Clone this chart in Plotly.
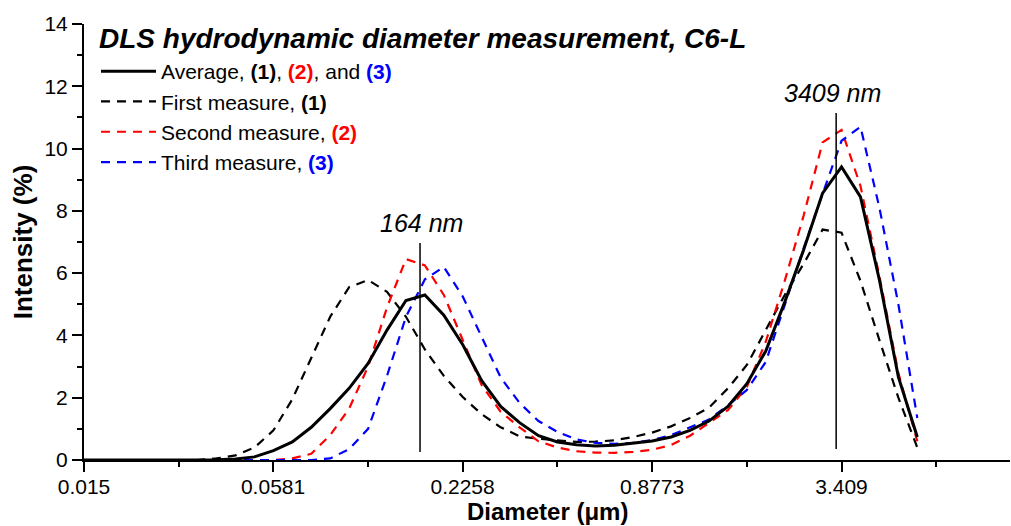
import math
import plotly.graph_objects as go

# Diameter bins (µm)
diameter = [0.015, 0.017179, 0.019675, 0.022534, 0.025807, 0.029557, 0.033851, 0.038769,
            0.044402, 0.050853, 0.058241, 0.066703, 0.076394, 0.087493, 0.10020, 0.11476,
            0.13143, 0.15053, 0.17240, 0.19744, 0.22613, 0.25898, 0.29661, 0.33970,
            0.38905, 0.44558, 0.51031, 0.58445, 0.66937, 0.76662, 0.87800, 1.0056,
            1.1516, 1.3190, 1.5106, 1.7301, 1.9814, 2.2693, 2.5990, 2.9766,
            3.4091, 3.9044, 4.4717, 5.1214, 5.8655]

first = [0, 0, 0, 0, 0, 0, 0, 0.05, 0.15, 0.4, 0.95, 1.95, 3.25, 4.6, 5.55, 5.78, 5.4, 4.6,
         3.55, 2.7, 2.02, 1.47, 1.05, 0.76, 0.68, 0.62, 0.58, 0.59, 0.63, 0.74, 0.88, 1.08,
         1.35, 1.68, 2.3, 3.05, 4.2, 5.3, 6.3, 7.4, 7.3, 5.75, 3.85, 2.0, 0.4]

second = [0, 0, 0, 0, 0, 0, 0, 0, 0, 0, 0, 0.05, 0.2, 0.8, 1.65, 3.0, 4.9, 6.45,
          6.25, 5.3, 3.85, 2.4, 1.55, 1.05, 0.6, 0.4, 0.28, 0.24, 0.23, 0.26, 0.33, 0.48,
          0.78, 1.2, 1.6, 2.35, 3.8, 5.75, 7.85, 10.2, 10.6, 8.8, 5.9, 2.8, 0.6]

third = [0, 0, 0, 0, 0, 0, 0, 0, 0, 0, 0, 0, 0, 0.05, 0.35, 1.0, 2.7, 4.6,
         5.8, 6.2, 5.25, 3.95, 2.65, 1.83, 1.25, 0.9, 0.66, 0.55, 0.52, 0.55, 0.64, 0.8,
         1.05, 1.3, 1.75, 2.25, 3.15, 5.0, 6.8, 8.55, 10.25, 10.7, 8.1, 5.0, 1.35]

average = [0, 0, 0, 0, 0, 0, 0, 0.01, 0.03, 0.1, 0.3, 0.58, 1.05, 1.65, 2.3, 3.1, 4.17, 5.12,
           5.3, 4.65, 3.7, 2.55, 1.72, 1.2, 0.78, 0.58, 0.49, 0.45, 0.47, 0.53, 0.61, 0.74,
           0.95, 1.25, 1.72, 2.45, 3.5, 5.07, 6.75, 8.57, 9.41, 8.45, 5.78, 2.67, 0.74]

tick_vals = [0.015, 0.0581, 0.2258, 0.8773, 3.409]
tick_text = ["0.015", "0.0581", "0.2258", "0.8773", "3.409"]
minor_vals = [0.02952, 0.1145, 0.4451, 1.7294, 6.72]

peak_x = [0.1665, 3.28]
peak_y0 = [0.26, 0.35]
peak_y1 = [6.97, 11.14]
peak_labels = ["164 nm", "3409 nm"]
peak_label_x = [0.1686, 3.184]
peak_label_y = [7.62, 11.8]

fig = go.Figure()
dash = "9px,7px"
fig.add_trace(go.Scatter(x=diameter, y=first, mode="lines", legendrank=2,
                         name="First measure, <b>(1)</b>",
                         line=dict(color="black", width=2.2, dash=dash)))
fig.add_trace(go.Scatter(x=diameter, y=second, mode="lines", legendrank=3,
                         name="Second measure, <b><span style='color:#ff0000'>(2)</span></b>",
                         line=dict(color="#ff0000", width=2.2, dash=dash)))
fig.add_trace(go.Scatter(x=diameter, y=third, mode="lines", legendrank=4,
                         name="Third measure, <b><span style='color:#0000ff'>(3)</span></b>",
                         line=dict(color="#0000ff", width=2.2, dash=dash)))
fig.add_trace(go.Scatter(x=diameter, y=average, mode="lines", legendrank=1,
                         name="Average, <b>(1)</b>, <b><span style='color:#ff0000'>(2)</span></b>, and <b><span style='color:#0000ff'>(3)</span></b>",
                         line=dict(color="black", width=3)))

for px_, y0, y1 in zip(peak_x, peak_y0, peak_y1):
    fig.add_shape(type="line", x0=px_, x1=px_, y0=y0, y1=y1, xref="x", yref="y",
                  line=dict(color="black", width=1.5))
for lx, ly, lt in zip(peak_label_x, peak_label_y, peak_labels):
    fig.add_annotation(x=math.log10(lx), y=ly, xref="x", yref="y", text="<i>" + lt + "</i>",
                       showarrow=False, font=dict(size=25, color="black"))

fig.add_annotation(x=(97 - 84) / 926, y=(460 - 38) / 436, xref="paper", yref="paper",
                   text="<b><i>DLS hydrodynamic diameter measurement, C6-L</i></b>",
                   showarrow=False, xanchor="left", yanchor="middle",
                   font=dict(size=28, color="black"))

# x-axis title
fig.add_annotation(x=0.5, y=(460 - 527) / 436, xref="paper", yref="paper",
                   text="<b>Diameter (μm)</b>", showarrow=False,
                   xanchor="center", yanchor="bottom",
                   font=dict(size=24, color="black"))

fig.update_layout(
    width=1011, height=526,
    margin=dict(l=84, r=1, t=24, b=66),
    paper_bgcolor="white", plot_bgcolor="white",
    font=dict(family="Liberation Sans, Arial, sans-serif", size=21, color="black"),
    showlegend=True,
    legend=dict(x=(96 - 84) / 926, y=(460 - 51) / 436, xanchor="left", yanchor="top",
                bgcolor="rgba(0,0,0,0)", font=dict(size=21), itemwidth=55,
                tracegroupgap=0),
    xaxis=dict(type="log", range=[-1.82391, 1.05669], tickmode="array",
               tickvals=tick_vals, ticktext=tick_text, automargin=False,
               ticklabelstandoff=-3,
               ticks="outside", ticklen=10, tickwidth=2, tickcolor="black",
               showline=True, linecolor="black", linewidth=2, showgrid=False, zeroline=False,
               minor=dict(tickmode="array", tickvals=minor_vals, ticks="outside",
                          ticklen=5, tickwidth=2, tickcolor="black", showgrid=False)),
    yaxis=dict(range=[0, 14], dtick=2, tick0=0, automargin=False,
               ticks="outside", ticklen=10, tickwidth=2, tickcolor="black",
               showline=True, linecolor="black", linewidth=2, showgrid=False, zeroline=False,
               minor=dict(dtick=1, ticks="outside", ticklen=5, tickwidth=2,
                          tickcolor="black", showgrid=False),
               title=dict(text="<b>Intensity (%)</b>", font=dict(size=26), standoff=4)),
)

fig.write_html("out.html")
